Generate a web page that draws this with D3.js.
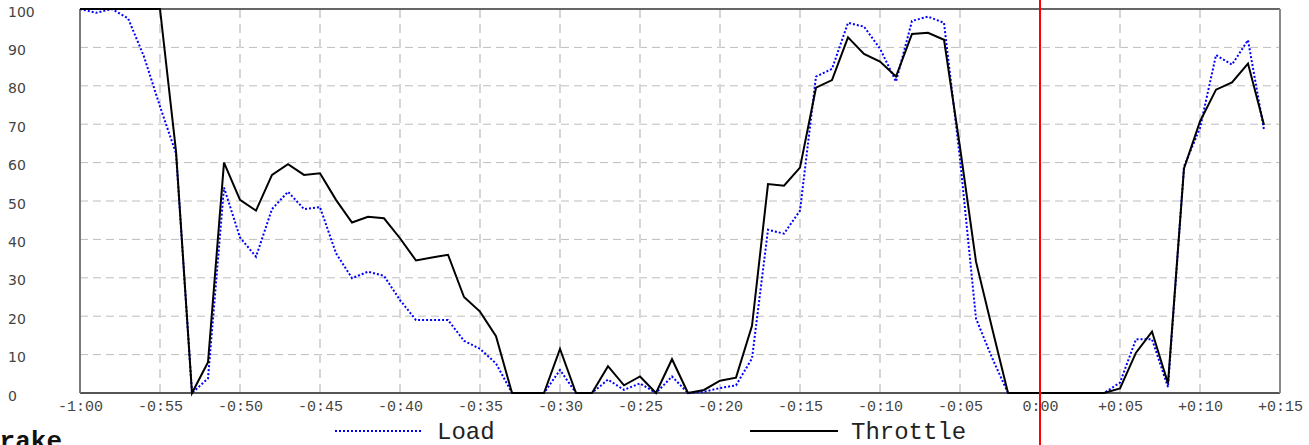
<!DOCTYPE html>
<html>
<head>
    <meta charset="utf-8">
    <title>Throttle / Load</title>
    <style>
        body {
            margin: 0;
            background: #fff;
            overflow: hidden;
        }

        .grid-h line {
            stroke: #bdbdbd;
            stroke-width: 1;
            stroke-dasharray: 8, 5;
        }

        .grid-v line {
            stroke: #d6d6d6;
            stroke-width: 2;
            stroke-dasharray: 9, 6;
        }

        .axis path, .axis line {
            display: none;
        }

        .y-axis text {
            font-family: "DejaVu Sans", sans-serif;
            font-size: 14px;
            fill: #444;
        }

        .x-axis text {
            font-family: "Liberation Mono", monospace;
            font-size: 15px;
            fill: #444;
        }

        .line {
            fill: none;
        }

        .throttle {
            stroke: #000;
            stroke-width: 2;
        }

        .load {
            stroke: #0000ff;
            stroke-width: 2;
            stroke-dasharray: 2, 2;
        }

        .legend text {
            font-family: "Liberation Mono", monospace;
            font-size: 24px;
            fill: #222;
        }

        .next-title {
            font-family: "Liberation Mono", monospace;
            font-size: 26px;
            font-weight: bold;
            fill: #111;
        }
    </style>
    <script src="https://d3js.org/d3.v7.min.js"></script>
</head>

<body>
<script type="text/javascript">
    // seconds relative to the marker (one sample per second)
    var times = d3.range(-60, 15);

    var throttle = [
        100, 100, 100, 100, 100, 100, 63, 0, 8, 60,
        50.3, 47.5, 56.8, 59.6, 56.8, 57.2, 50.3, 44.4, 45.9, 45.5,
        40.3, 34.5, 35.3, 36, 25, 21.2, 14.8, 0, 0, 0,
        11.5, 0, 0, 7, 2, 4.3, 0, 8.8, 0, 0.8,
        3.2, 4, 17.5, 54.4, 54, 58.7, 79.5, 81.5, 92.6, 88.3,
        86.3, 82.4, 93.5, 93.8, 92, 64, 34.2, 17, 0, 0,
        0, 0, 0, 0, 0, 1.2, 10.5, 16, 2.5, 58.5,
        70.7, 79, 80.9, 85.8, 69.8
    ];

    var load = [
        100, 99, 100, 97.6, 87.6, 74.6, 62.4, 0, 3.8, 53.5,
        40.5, 35.5, 47.9, 52.4, 47.9, 48.4, 36.4, 29.9, 31.6, 30.5,
        24.2, 19, 19, 19, 13.6, 11.5, 7.7, 0, 0, 0,
        6, 0, 0, 3.5, 0.8, 2.5, 0, 4.3, 0, 0.3,
        1.3, 2, 9, 42.5, 41.5, 47.5, 82.4, 84.4, 96.4, 95.4,
        89.7, 81.1, 96.9, 98, 96.4, 61, 19.4, 9.2, 0, 0,
        0, 0, 0, 0, 0, 2.7, 14, 14, 1.5, 59,
        69, 88, 85.5, 91.9, 68.5
    ];

    var xTicks = d3.range(-60, 16, 5);
    var yTicks = d3.range(0, 101, 10);
    var marker = 0;

    var width = 1309, height = 445,
        margins = {top: 9, left: 80, right: 29, bottom: 52};

    var x = d3.scaleLinear().domain([-60, 15]).range([margins.left, width - margins.right]);
    var y = d3.scaleLinear().domain([0, 100]).range([height - margins.bottom, margins.top]);

    function fmtTime(t) {
        var a = Math.abs(t);
        var s = Math.floor(a / 60) + ":" + d3.format("02d")(a % 60);
        if (t < 0) return "-" + s;
        if (t > 0) return "+" + s;
        return s;
    }

    var svg = d3.select("body").append("svg")
        .attr("width", width)
        .attr("height", height);

    // grid
    svg.append("g").attr("class", "grid-h")
        .selectAll("line")
        .data(yTicks.filter(function (d) { return d > 0 && d < 100; }))
        .enter().append("line")
        .attr("x1", x(-60)).attr("x2", x(15))
        .attr("y1", function (d) { return y(d); })
        .attr("y2", function (d) { return y(d); });

    svg.append("g").attr("class", "grid-v")
        .selectAll("line")
        .data(xTicks.filter(function (d) { return d > -60 && d < 15; }))
        .enter().append("line")
        .attr("x1", function (d) { return x(d); })
        .attr("x2", function (d) { return x(d); })
        .attr("y1", y(100)).attr("y2", y(0));

    // frame
    var frame = svg.append("g");
    frame.append("line").attr("x1", x(-60)).attr("x2", x(15)).attr("y1", y(100)).attr("y2", y(100))
        .attr("stroke", "#333").attr("stroke-width", 1.5);
    frame.append("line").attr("x1", x(-60)).attr("x2", x(15)).attr("y1", y(0)).attr("y2", y(0))
        .attr("stroke", "#555").attr("stroke-width", 2);
    frame.append("line").attr("x1", x(-60)).attr("x2", x(-60)).attr("y1", y(100)).attr("y2", y(0))
        .attr("stroke", "#7a7a7a").attr("stroke-width", 2);
    frame.append("line").attr("x1", x(15)).attr("x2", x(15)).attr("y1", y(100)).attr("y2", y(0))
        .attr("stroke", "#8a8a8a").attr("stroke-width", 2);

    // axes
    var yAxis = d3.axisLeft(y).tickValues(yTicks).tickSize(0);
    svg.append("g").attr("class", "axis y-axis")
        .attr("transform", "translate(0,0)")
        .call(yAxis)
        .selectAll("text")
        .attr("x", 8)
        .attr("dy", "0.5em")
        .attr("text-anchor", "start");

    var xAxis = d3.axisBottom(x).tickValues(xTicks).tickSize(0).tickFormat(fmtTime);
    svg.append("g").attr("class", "axis x-axis")
        .attr("transform", "translate(0," + y(0) + ")")
        .call(xAxis)
        .selectAll("text")
        .attr("y", 18)
        .attr("dy", 0);

    // series
    var line = d3.line()
        .x(function (d, i) { return x(times[i]); })
        .y(function (d) { return y(d); });

    svg.append("path").datum(load)
        .attr("class", "line load")
        .attr("d", line);

    svg.append("path").datum(throttle)
        .attr("class", "line throttle")
        .attr("d", line);

    // marker line
    svg.append("line")
        .attr("x1", x(marker)).attr("x2", x(marker))
        .attr("y1", 0).attr("y2", height)
        .attr("stroke", "#ff0000").attr("stroke-width", 2);

    // legend
    var legend = svg.append("g").attr("class", "legend");
    legend.append("line").attr("x1", 335).attr("x2", 423).attr("y1", 431).attr("y2", 431)
        .attr("class", "load");
    legend.append("text").attr("x", 437).attr("y", 439).text("Load");
    legend.append("line").attr("x1", 750).attr("x2", 838).attr("y1", 431).attr("y2", 431)
        .attr("class", "throttle");
    legend.append("text").attr("x", 851).attr("y", 439).text("Throttle");

    // title of the next chart, cut by the window
    svg.append("text").attr("class", "next-title")
        .attr("x", -16).attr("y", 449)
        .text("Brake");
</script>
</body>
</html>
